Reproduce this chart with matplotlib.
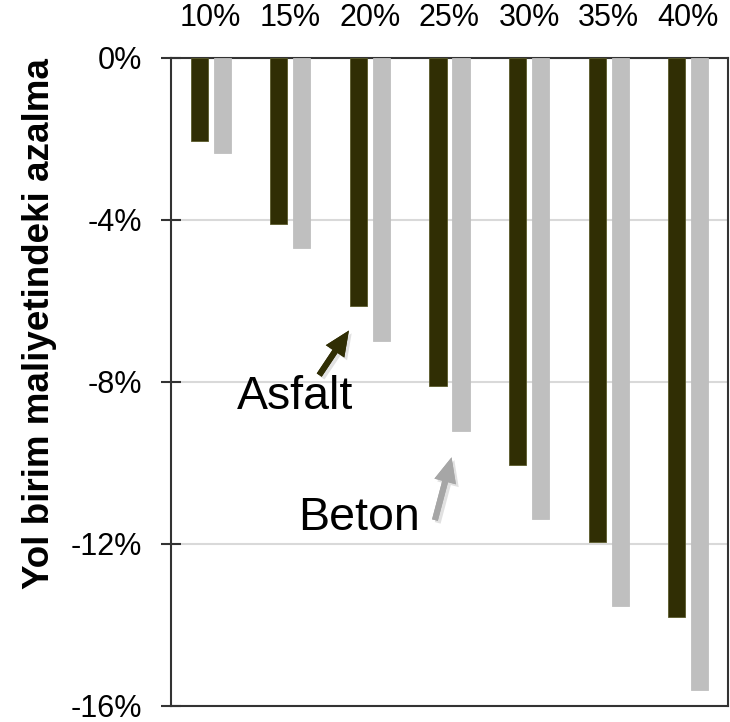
import matplotlib
matplotlib.use("Agg")
import matplotlib.pyplot as plt
import matplotlib.patheffects as pe
import numpy as np

# cost reduction by share of recycled material
shares = ["10%", "15%", "20%", "25%", "30%", "35%", "40%"]
asfalt = [-2.04, -4.11, -6.12, -8.11, -10.05, -11.94, -13.81]
beton = [-2.34, -4.68, -6.98, -9.21, -11.39, -13.52, -15.60]
yticks = [0, -4, -8, -12, -16]

dark = "#302e04"
light = "#bfbfbf"
arrow_grey = "#a6a6a6"

plt.rcParams["font.family"] = ["Liberation Sans", "DejaVu Sans"]

fig = plt.figure(figsize=(7.30, 7.22), dpi=100)
ax = fig.add_axes([0.2342, 0.0222, 0.9973 - 0.2342, 0.9197 - 0.0222])

x = np.arange(len(shares))
w = 0.215
ax.bar(x - 0.145, asfalt, w, color=dark, edgecolor="#5a5a2a", linewidth=0.6, zorder=3)
ax.bar(x + 0.145, beton, w, color=light, edgecolor=light, linewidth=0.6, zorder=3)

ax.set_xlim(-0.5, len(shares) - 0.5)
ax.set_ylim(-16, 0)
ax.set_yticks(yticks)
ax.set_yticklabels([f"{v}%" for v in yticks])
ax.yaxis.grid(True, color="#d9d9d9", linewidth=1.5, zorder=0)
ax.set_axisbelow(True)

ax.xaxis.tick_top()
ax.set_xticks(x)
ax.set_xticklabels(shares)
ax.tick_params(axis="x", length=0, pad=18, labelsize=22)
ax.tick_params(axis="y", direction="inout", length=14.4, width=1.5, color="#333333",
               pad=13.5, labelsize=22)

for s in ax.spines.values():
    s.set_color("#333333")
    s.set_linewidth(1.5)

fig.text(40 / 730, 1 - 324 / 722, "Yol birim maliyetindeki azalma", rotation=90,
         fontsize=26.5, fontweight="bold", ha="center", va="center")

shadow = [pe.withSimplePatchShadow(offset=(2, -2), shadow_rgbFace="#888888", alpha=0.25), pe.Normal()]

ax.text(0.329, -8.667, "Asfalt", fontsize=33.5, va="baseline", ha="left")
ax.annotate("", xy=(1.736, -6.73), xytext=(1.363, -7.83),
            arrowprops=dict(width=4.3, headwidth=16, headlength=18, color=dark, lw=0,
                            path_effects=shadow))
ax.text(1.095, -11.65, "Beton", fontsize=33.5, va="baseline", ha="left")
ax.annotate("", xy=(3.026, -9.86), xytext=(2.817, -11.41),
            arrowprops=dict(width=4.3, headwidth=16, headlength=18, color=arrow_grey, lw=0,
                            path_effects=shadow))

fig.savefig("out.png", dpi=100)
